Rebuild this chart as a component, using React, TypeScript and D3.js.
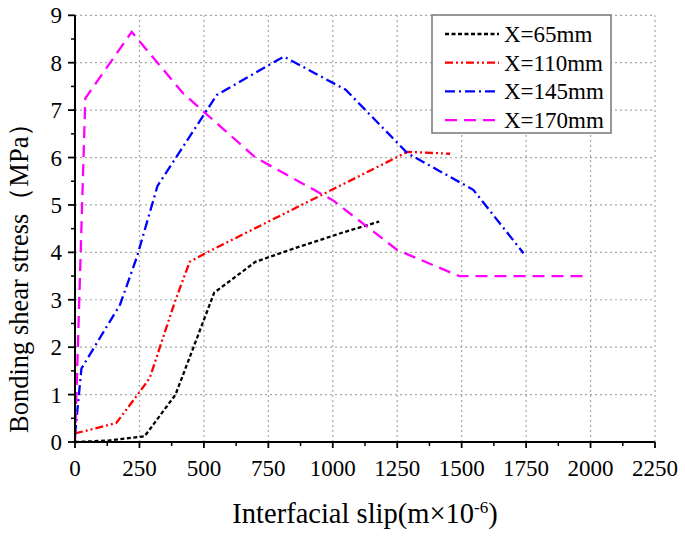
import React from "react";
import * as d3 from "d3";

const xTicks = [0, 250, 500, 750, 1000, 1250, 1500, 1750, 2000, 2250];
const yTicks = [0, 1, 2, 3, 4, 5, 6, 7, 8, 9];

const seriesNames = ["X=65mm", "X=110mm", "X=145mm", "X=170mm"];
const seriesColors = ["#000000", "#ff0000", "#0000ff", "#ff00ff"];
const seriesDash = ["4,2.5", "8,3,2,3,2,3", "10,4,2,4", "12,7"];

const s65: [number, number][] = [
  [0, 0], [130, 0.03], [270, 0.12], [390, 1.0], [540, 3.15], [700, 3.8], [870, 4.12], [1040, 4.42], [1180, 4.65],
];
const s110: [number, number][] = [
  [0, 0.18], [160, 0.4], [250, 1.05], [290, 1.35], [390, 3.0], [445, 3.8], [505, 3.98], [1290, 6.12], [1455, 6.08],
];
const s145: [number, number][] = [
  [0, 0.15], [25, 1.55], [175, 2.9], [240, 3.9], [320, 5.4], [550, 7.32], [810, 8.13], [1050, 7.43], [1290, 6.09], [1545, 5.32], [1740, 3.98],
];
const s170: [number, number][] = [
  [0, 0], [40, 7.25], [220, 8.65], [420, 7.35], [700, 6.0], [1000, 5.1], [1250, 4.05], [1490, 3.5], [1750, 3.5], [1980, 3.5],
];
const allSeries = [s65, s110, s145, s170];

export default function App() {
  const W = 685, H = 537;
  const x0 = 75, x1 = 655, y0 = 442, y1 = 15.3;
  const x = d3.scaleLinear().domain([0, 2250]).range([x0, x1]);
  const y = d3.scaleLinear().domain([0, 9]).range([y0, y1]);
  const line = d3.line<[number, number]>().x(d => x(d[0])).y(d => y(d[1]));
  const serif = "'Liberation Serif', 'Times New Roman', serif";
  const minorX = d3.range(125, 2250, 250);
  const minorY = d3.range(0.5, 9, 1);

  return (
    <svg width={W} height={H} style={{ position: "absolute", left: 0, top: 0, background: "#fff" }}>
      <rect x={0} y={0} width={W} height={H} fill="#fff" />
      {/* grid */}
      {xTicks.slice(1).map(t => (
        <line key={"gx" + t} x1={x(t)} x2={x(t)} y1={y0} y2={y1} stroke="#a8a8a8" strokeWidth={1.2} strokeDasharray="2,3" />
      ))}
      {yTicks.slice(1).map(t => (
        <line key={"gy" + t} x1={x0} x2={x1} y1={y(t)} y2={y(t)} stroke="#a8a8a8" strokeWidth={1.2} strokeDasharray="2,3" />
      ))}
      {/* series */}
      {allSeries.map((s, i) => (
        <path key={"s" + i} d={line(s) || ""} fill="none" stroke={seriesColors[i]} strokeWidth={2.3} strokeDasharray={seriesDash[i]} />
      ))}
      {/* axes */}
      <line x1={x0} x2={x1} y1={y0} y2={y0} stroke="#000" strokeWidth={2} />
      <line x1={x0} x2={x0} y1={y0 + 1} y2={y1} stroke="#000" strokeWidth={2} />
      {xTicks.map(t => (
        <g key={"xt" + t}>
          <line x1={x(t)} x2={x(t)} y1={y0} y2={y0 + 6} stroke="#000" strokeWidth={1.8} />
          <text x={x(t)} y={476} textAnchor="middle" fontFamily={serif} fontSize={23} fill="#000">{t}</text>
        </g>
      ))}
      {minorX.map(t => (
        <line key={"mx" + t} x1={x(t)} x2={x(t)} y1={y0} y2={y0 + 4} stroke="#000" strokeWidth={1.5} />
      ))}
      {yTicks.map(t => (
        <g key={"yt" + t}>
          <line x1={x0 - 7} x2={x0} y1={y(t)} y2={y(t)} stroke="#000" strokeWidth={1.8} />
          <text x={62} y={y(t) + 8} textAnchor="end" fontFamily={serif} fontSize={23} fill="#000">{t}</text>
        </g>
      ))}
      {minorY.map(t => (
        <line key={"my" + t} x1={x0 - 4} x2={x0} y1={y(t)} y2={y(t)} stroke="#000" strokeWidth={1.5} />
      ))}
      {/* axis titles */}
      <text transform="translate(28,433) rotate(-90)" textAnchor="start" fontFamily={serif} fontSize={26.5} fill="#000">
        Bonding shear stress（MPa）
      </text>
      <text x={365} y={523} textAnchor="middle" fontFamily={serif} fontSize={28.5} fill="#000">
        Interfacial slip(m×10<tspan dy={-10} fontSize={17}>-6</tspan><tspan dy={10}>)</tspan>
      </text>
      {/* legend */}
      <rect x={432} y={15} width={179} height={118} fill="#fff" stroke="#777" strokeWidth={1.5} />
      {seriesNames.map((n, i) => {
        const ly = 34 + i * 28.7;
        return (
          <g key={"lg" + i}>
            <line x1={445} x2={499} y1={ly} y2={ly} stroke={seriesColors[i]} strokeWidth={2.3} strokeDasharray={seriesDash[i]} />
            <text x={504} y={ly + 8} fontFamily={serif} fontSize={23} fill="#000">{n}</text>
          </g>
        );
      })}
    </svg>
  );
}
